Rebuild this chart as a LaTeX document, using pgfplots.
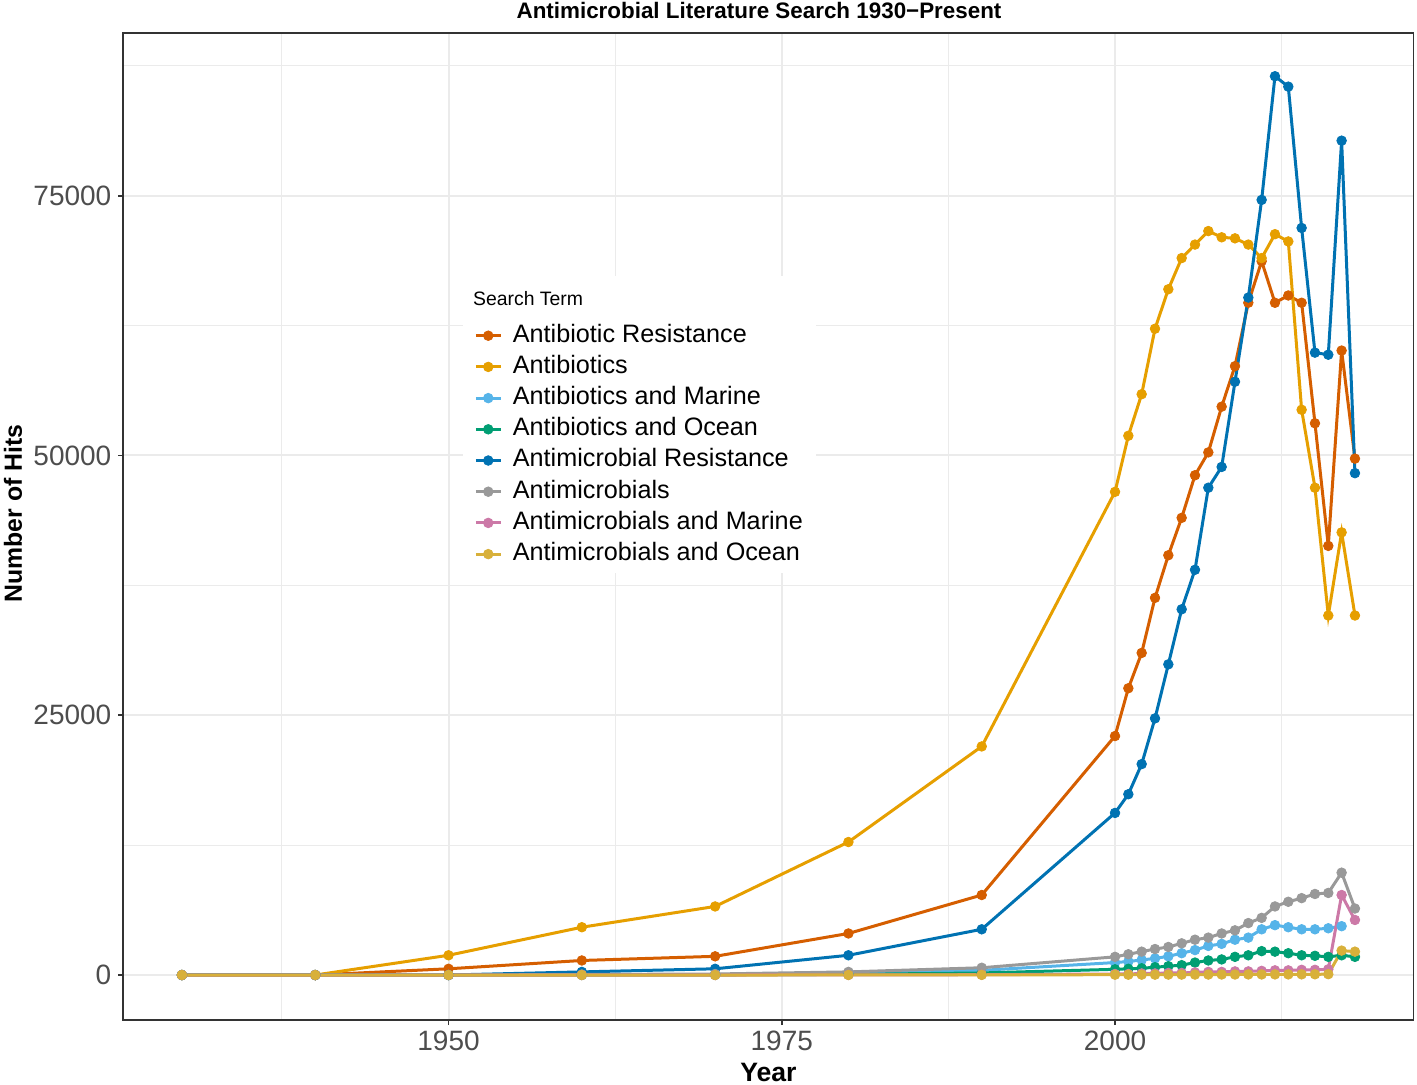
\documentclass[border=0pt]{standalone}
\usepackage{fontspec}
\setmainfont{Liberation Sans}
\usepackage{pgfplots}
\pgfplotsset{compat=1.18}
\usetikzlibrary{calc}
\definecolor{cAR}{HTML}{D55E00}
\definecolor{cAB}{HTML}{E69F00}
\definecolor{cABM}{HTML}{56B4E9}
\definecolor{cABO}{HTML}{009E73}
\definecolor{cAMR}{HTML}{0072B2}
\definecolor{cAM}{HTML}{999999}
\definecolor{cAMM}{HTML}{CC79A7}
\definecolor{cAMO}{RGB}{216,176,58}
\definecolor{gridc}{HTML}{EBEBEB}
\definecolor{gtwenty}{HTML}{333333}
\definecolor{gthirty}{HTML}{4D4D4D}
\pgfplotsset{
  series/.style={color=#1, line width=1.5pt, mark=*, mark size=2.4pt,
    mark options={solid, line width=0.4pt, draw=#1, fill=#1}},
}
\begin{document}
\begin{tikzpicture}
\useasboundingbox (-61.65pt,-32pt) rectangle (646.85pt,510pt);
\begin{axis}[
  at={(0pt,0pt)}, anchor=south west,
  scale only axis, width=645.15pt, height=493.65pt,
  xmin=1925.6, xmax=2022.4, ymin=-4330, ymax=90690,
  scaled x ticks=false, scaled y ticks=false,
  xtick={1950,1975,2000}, xticklabels={1950,1975,2000},
  minor xtick={1937.5,1962.5,1987.5,2012.5},
  ytick={0,25000,50000,75000}, yticklabels={0,25000,50000,75000},
  minor ytick={12500,37500,62500,87500},
  grid=both,
  major grid style={line width=1pt, color=gridc},
  minor grid style={line width=0.5pt, color=gridc},
  axis line style={line width=0.85pt, color=gtwenty},
  tick align=outside, major tick length=2.5pt, minor tick length=0pt,
  major tick style={line width=0.85pt, color=gtwenty},
  xtick pos=left, ytick pos=left,
  /pgf/number format/assume math mode=true,
  ticklabel style={font=\fontsize{14}{16}\selectfont, text=gthirty, inner sep=0pt},
  xticklabel style={anchor=north},
  yticklabel style={anchor=east},
  xticklabel shift=3pt,
  yticklabel shift=3.3pt,
  title={Antimicrobial Literature Search 1930\symbol{"2212}Present},
  title style={at={(rel axis cs:0.4927,1)}, anchor=base, yshift=1.35pt, inner sep=0pt,
    font=\bfseries\fontsize{11.2}{13}\selectfont},
  xlabel={Year},
  xlabel style={at={(rel axis cs:0.5,0)}, anchor=base, yshift=-30.5pt, inner sep=0pt,
    font=\bfseries\fontsize{13.3}{15}\selectfont},
  ylabel={Number of Hits},
  ylabel style={at={($(rel axis cs:0,0.513)+(-50.65pt,0pt)$)}, rotate=0, anchor=base, inner sep=0pt,
    font=\bfseries\fontsize{12.4}{14}\selectfont},
  legend style={at={(0.27180,0.70931)}, anchor=north west, draw=none, fill=none,
    inner sep=0pt, row sep=0pt, column sep=5.4pt,
    font=\fontsize{12.6}{15}\selectfont,
    nodes={inner sep=0pt, text height=11pt, text depth=4.6pt},
    cells={anchor=west}},
  legend image code/.code={\draw[mark repeat=2, mark phase=2] plot coordinates {(0pt,0pt) (6.175pt,0pt) (12.35pt,0pt)};},
]
\fill[white] (rel axis cs:0.26327,0.45275) rectangle (rel axis cs:0.53685,0.75357);

% Antibiotic Resistance
\addplot[series=cAR] coordinates {
(1930,0) (1940,0) (1950,600) (1960,1400) (1970,1800) (1980,4000) (1990,7700)
(2000,23000) (2001,27600) (2002,31000) (2003,36300) (2004,40400) (2005,44000)
(2006,48100) (2007,50300) (2008,54700) (2009,58600) (2010,64700) (2011,68700)
(2012,64700) (2013,65400) (2014,64700) (2015,53100) (2016,41300) (2017,60100) (2018,49700)};
\addlegendentry{Antibiotic Resistance}
% Antibiotics
\addplot[series=cAB] coordinates {
(1930,0) (1940,0) (1950,1900) (1960,4600) (1970,6600) (1980,12800) (1990,22000)
(2000,46500) (2001,51900) (2002,55900) (2003,62200) (2004,66000) (2005,69000)
(2006,70300) (2007,71600) (2008,71000) (2009,70900) (2010,70300) (2011,69000)
(2012,71300) (2013,70600) (2014,54400) (2015,46900) (2016,34600) (2017,42600) (2018,34600)};
\addlegendentry{Antibiotics}
% Antibiotics and Marine
\addplot[series=cABM] coordinates {
(1930,0) (1940,0) (1950,0) (1960,20) (1970,50) (1980,150) (1990,450)
(2000,1200) (2001,1300) (2002,1450) (2003,1600) (2004,1800) (2005,2100)
(2006,2400) (2007,2800) (2008,3000) (2009,3400) (2010,3600) (2011,4400)
(2012,4800) (2013,4600) (2014,4400) (2015,4400) (2016,4500) (2017,4700)};
\addlegendentry{Antibiotics and Marine}
% Antibiotics and Ocean
\addplot[series=cABO] coordinates {
(1930,0) (1940,0) (1950,0) (1960,10) (1970,20) (1980,60) (1990,200)
(2000,550) (2001,600) (2002,650) (2003,750) (2004,850) (2005,950)
(2006,1200) (2007,1400) (2008,1500) (2009,1750) (2010,1900) (2011,2300)
(2012,2250) (2013,2100) (2014,1900) (2015,1850) (2016,1750) (2017,1900) (2018,1750)};
\addlegendentry{Antibiotics and Ocean}
% Antimicrobial Resistance
\addplot[series=cAMR] coordinates {
(1930,0) (1940,0) (1950,0) (1960,300) (1970,600) (1980,1900) (1990,4400)
(2000,15600) (2001,17400) (2002,20300) (2003,24700) (2004,29900) (2005,35200)
(2006,39000) (2007,46900) (2008,48900) (2009,57100) (2010,65200) (2011,74600)
(2012,86500) (2013,85500) (2014,71900) (2015,59900) (2016,59700) (2017,80300) (2018,48300)};
\addlegendentry{Antimicrobial Resistance}
% Antimicrobials
\addplot[series=cAM] coordinates {
(1930,0) (1940,0) (1950,0) (1960,50) (1970,100) (1980,300) (1990,700)
(2000,1750) (2001,2000) (2002,2250) (2003,2500) (2004,2700) (2005,3050)
(2006,3400) (2007,3600) (2008,4000) (2009,4300) (2010,5000) (2011,5500)
(2012,6600) (2013,7050) (2014,7400) (2015,7800) (2016,7900) (2017,9850) (2018,6400)};
\addlegendentry{Antimicrobials}
% Antimicrobials and Marine
\addplot[series=cAMM] coordinates {
(1930,0) (1940,0) (1950,0) (1960,0) (1970,0) (1980,10) (1990,30)
(2000,100) (2001,100) (2002,150) (2003,150) (2004,200) (2005,200)
(2006,250) (2007,300) (2008,300) (2009,350) (2010,350) (2011,400)
(2012,450) (2013,450) (2014,500) (2015,500) (2016,550) (2017,7700) (2018,5300)};
\addlegendentry{Antimicrobials and Marine}
% Antimicrobials and Ocean
\addplot[series=cAMO] coordinates {
(1930,0) (1940,0) (1950,0) (1960,0) (1970,0) (1980,5) (1990,15)
(2000,30) (2001,30) (2002,35) (2003,35) (2004,40) (2005,40)
(2006,45) (2007,45) (2008,50) (2009,50) (2010,55) (2011,55)
(2012,60) (2013,60) (2014,65) (2015,70) (2016,80) (2017,2350) (2018,2250)};
\addlegendentry{Antimicrobials and Ocean}

\node[anchor=base west, inner sep=0pt, font=\fontsize{9.7}{11}\selectfont] at (rel axis cs:0.27079,0.72420) {Search Term};
\end{axis}
\end{tikzpicture}
\end{document}
